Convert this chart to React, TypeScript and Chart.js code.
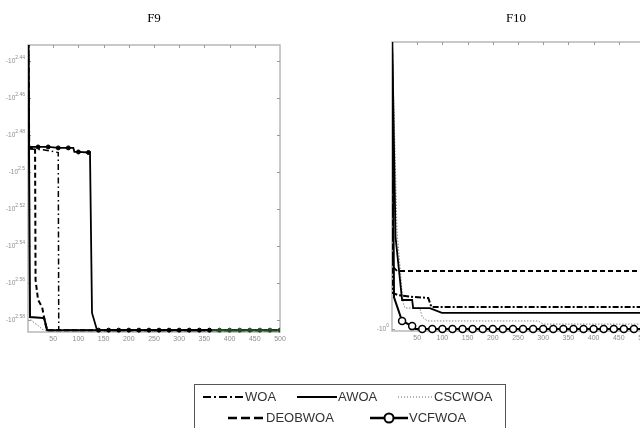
import React, { useEffect, useRef } from 'react';
import { Chart, registerables } from 'chart.js';
Chart.register(...registerables);

// ---------- data ----------
const ITER_TICKS = [0, 50, 100, 150, 200, 250, 300, 350, 400, 450, 500];

// F9 : y value = exponent e of -10^e
const F9_Y_TICKS = [2.44, 2.46, 2.48, 2.5, 2.52, 2.54, 2.56, 2.58];
const F9_WOA_X = [0, 3, 30, 54, 60, 61, 500];
const F9_WOA_Y = [2.4, 2.4876, 2.488, 2.4892, 2.4895, 2.5855, 2.5855];
const F9_AWOA_X = [0, 4, 30, 32, 34, 38, 500];
const F9_AWOA_Y = [2.4, 2.5784, 2.5789, 2.5789, 2.5811, 2.5855, 2.5855];
const F9_CSCWOA_X = [0, 3, 10, 20, 28, 32, 500];
const F9_CSCWOA_Y = [2.4, 2.5789, 2.5811, 2.583, 2.585, 2.5855, 2.5855];
const F9_DEOBWOA_X = [0, 2, 14, 15, 20, 28, 34, 38, 500];
const F9_DEOBWOA_Y = [2.4, 2.487, 2.487, 2.5584, 2.5692, 2.573, 2.5816, 2.5855, 2.5855];
const F9_VCFWOA_X = [0, 2, 20, 40, 60, 80, 90, 92, 100, 120, 123, 127, 137, 140, 160, 180, 200, 220, 240, 260, 280, 300, 320, 340, 360, 380, 400, 420, 440, 460, 480, 500];
const F9_VCFWOA_Y = [2.4, 2.4865, 2.4865, 2.4865, 2.487, 2.487, 2.487, 2.4892, 2.4892, 2.4895, 2.4895, 2.5762, 2.5855, 2.5855, 2.5855, 2.5855, 2.5855, 2.5855, 2.5855, 2.5855, 2.5855, 2.5855, 2.5855, 2.5855, 2.5855, 2.5855, 2.5855, 2.5855, 2.5855, 2.5855, 2.5855, 2.5855];

// F10 : y value = exponent e of -10^e
const F10_Y_TICKS = [0];
const F10_WOA_X = [0, 2, 12, 40, 72, 78, 500];
const F10_WOA_Y = [-1.05, -0.125, -0.118, -0.112, -0.108, -0.077, -0.077];
const F10_AWOA_X = [0, 7, 20, 40, 42, 75, 99, 500];
const F10_AWOA_Y = [-1.05, -0.321, -0.101, -0.101, -0.073, -0.073, -0.056, -0.056];
const F10_CSCWOA_X = [0, 10, 22, 26, 55, 60, 70, 290, 300, 500];
const F10_CSCWOA_Y = [-1.05, -0.34, -0.091, -0.073, -0.073, -0.042, -0.028, -0.028, -0.017, -0.017];
const F10_DEOBWOA_X = [0, 2, 10, 500];
const F10_DEOBWOA_Y = [-1.05, -0.216, -0.202, -0.202];
const F10_VCFWOA_X = [0, 4, 20, 40, 44, 47, 60, 80, 100, 120, 140, 160, 180, 200, 220, 240, 260, 280, 300, 320, 340, 360, 380, 400, 420, 440, 460, 480, 500];
const F10_VCFWOA_Y = [-1.05, -0.11, -0.028, -0.01, -0.006, 0, 0, 0, 0, 0, 0, 0, 0, 0, 0, 0, 0, 0, 0, 0, 0, 0, 0, 0, 0, 0, 0, 0, 0];

const SERIES_NAMES = ['WOA', 'AWOA', 'CSCWOA', 'DEOBWOA', 'VCFWOA'];

// ---------- helpers ----------
const pts = (xs: number[], ys: number[]) => xs.map((x, i) => ({ x, y: ys[i] }));
const SANS = "'Liberation Sans', Arial, sans-serif";
const SERIF = "'Liberation Serif', 'Times New Roman', serif";
const CLIP = { left: 0, top: 0, right: 0, bottom: 5 };
const X_AXIS_H = 14;

function markerRadius(r: number) {
  return (c: any) => {
    const x = c.raw ? c.raw.x : 0;
    return x > 0 && x % 20 === 0 ? r : 0;
  };
}

function makePlugin(id: string, yTicks: number[], title: string, titleX: number, legend: boolean) {
  return {
    id,
    beforeDatasetsDraw(chart: any) {
      const { ctx, chartArea: a } = chart;
      const xs = chart.scales.x;
      const ys = chart.scales.y;
      ctx.save();
      ctx.strokeStyle = '#b8b8b8';
      ctx.lineWidth = 1.5;
      ctx.strokeRect(a.left, a.top, a.right - a.left, a.bottom - a.top);
      ctx.strokeStyle = '#9a9a9a';
      ctx.lineWidth = 1;
      ctx.beginPath();
      for (const t of ITER_TICKS) {
        if (t <= 0 || t >= 500) continue;
        const px = Math.round(xs.getPixelForValue(t)) + 0.5;
        ctx.moveTo(px, a.top);
        ctx.lineTo(px, a.top + 3);
        ctx.moveTo(px, a.bottom);
        ctx.lineTo(px, a.bottom - 3);
      }
      for (const v of yTicks) {
        const py = Math.round(ys.getPixelForValue(v)) + 0.5;
        ctx.moveTo(a.left, py);
        ctx.lineTo(a.left + 3, py);
        ctx.moveTo(a.right, py);
        ctx.lineTo(a.right - 3, py);
      }
      ctx.stroke();
      ctx.restore();
    },
    afterDraw(chart: any) {
      const { ctx, chartArea: a } = chart;
      const ys = chart.scales.y;
      ctx.save();
      // y tick labels -10^e
      ctx.fillStyle = '#8c8c8c';
      ctx.textAlign = 'left';
      ctx.textBaseline = 'alphabetic';
      for (const v of yTicks) {
        const py = ys.getPixelForValue(v);
        const exp = String(v);
        ctx.font = `5px ${SANS}`;
        const ew = ctx.measureText(exp).width;
        ctx.font = `6.5px ${SANS}`;
        const bw = ctx.measureText('-10').width;
        const x0 = a.left - 3 - ew - bw;
        ctx.fillText('-10', x0, py + 2.5);
        ctx.font = `5px ${SANS}`;
        ctx.fillText(exp, x0 + bw, py - 1.5);
      }
      // title
      ctx.fillStyle = '#000';
      ctx.font = `13px ${SERIF}`;
      ctx.textAlign = 'center';
      ctx.fillText(title, titleX, 22);
      if (legend) {
        ctx.strokeStyle = '#555';
        ctx.lineWidth = 1;
        ctx.strokeRect(194.5, 384.5, 311, 60);
        const seg = (x1: number, x2: number, y: number, dash: number[], w: number, col: string) => {
          ctx.beginPath();
          ctx.setLineDash(dash);
          ctx.strokeStyle = col;
          ctx.lineWidth = w;
          ctx.moveTo(x1, y);
          ctx.lineTo(x2, y);
          ctx.stroke();
          ctx.setLineDash([]);
        };
        const r1 = 397, r2 = 418;
        seg(203, 243, r1, [8, 3, 2, 3], 2, '#000');
        seg(297, 337, r1, [], 2, '#000');
        seg(398, 433, r1, [1, 2], 1, '#666');
        seg(228, 265, r2, [9, 4], 2.5, '#000');
        seg(370, 408, r2, [], 2.5, '#000');
        ctx.beginPath();
        ctx.arc(389, r2, 4.5, 0, Math.PI * 2);
        ctx.fillStyle = '#fff';
        ctx.fill();
        ctx.lineWidth = 2;
        ctx.strokeStyle = '#000';
        ctx.stroke();
        ctx.fillStyle = '#333';
        ctx.font = `13px ${SANS}`;
        ctx.textAlign = 'left';
        ctx.textBaseline = 'middle';
        ctx.fillText(SERIES_NAMES[0], 245, r1);
        ctx.fillText(SERIES_NAMES[1], 338, r1);
        ctx.fillText(SERIES_NAMES[2], 434, r1);
        ctx.fillText(SERIES_NAMES[3], 266, r2);
        ctx.fillText(SERIES_NAMES[4], 409, r2);
      }
      ctx.restore();
    },
  };
}

function makeConfig(datasets: any[], yMin: number, yMax: number, padding: any, plugin: any): any {
  return {
    type: 'line',
    data: { datasets },
    options: {
      animation: false,
      responsive: false,
      maintainAspectRatio: false,
      layout: { padding },
      plugins: { legend: { display: false }, title: { display: false }, tooltip: { enabled: false } },
      elements: { line: { tension: 0, fill: false } },
      scales: {
        x: {
          type: 'linear',
          min: 0,
          max: 500,
          afterFit: (s: any) => { s.height = X_AXIS_H; },
          grid: { display: false, drawTicks: false },
          border: { display: false },
          ticks: {
            stepSize: 50,
            autoSkip: false,
            maxRotation: 0,
            padding: 3,
            color: '#8c8c8c',
            font: { size: 7, family: SANS },
            callback: (v: any) => (v === 0 ? '' : String(v)),
          },
        },
        y: {
          type: 'linear',
          reverse: true,
          min: yMin,
          max: yMax,
          afterFit: (s: any) => { s.width = 0; },
          grid: { display: false, drawTicks: false },
          border: { display: false },
          ticks: { display: false },
        },
      },
    },
    plugins: [plugin],
  };
}

export default function App() {
  const ref9 = useRef<HTMLCanvasElement>(null);
  const ref10 = useRef<HTMLCanvasElement>(null);

  useEffect(() => {
    const f9Datasets = [
      {
        label: 'VCFWOA', data: pts(F9_VCFWOA_X, F9_VCFWOA_Y), borderColor: '#000', borderWidth: 1.8,
        pointRadius: markerRadius(2), pointBackgroundColor: (c: any) => (c.raw && c.raw.x >= 370 ? '#244a24' : '#000'),
        pointBorderColor: (c: any) => (c.raw && c.raw.x >= 370 ? '#244a24' : '#000'), pointBorderWidth: 1,
        segment: { borderColor: (c: any) => (c.p0.parsed.x >= 360 ? '#244a24' : undefined) },
        clip: CLIP,
      },
      { label: 'WOA', data: pts(F9_WOA_X, F9_WOA_Y), borderColor: '#000', borderWidth: 1.5, borderDash: [6, 3, 1.5, 3], pointRadius: 0, clip: CLIP },
      { label: 'AWOA', data: pts(F9_AWOA_X, F9_AWOA_Y), borderColor: '#000', borderWidth: 2, pointRadius: 0, clip: CLIP },
      { label: 'DEOBWOA', data: pts(F9_DEOBWOA_X, F9_DEOBWOA_Y), borderColor: '#000', borderWidth: 2, borderDash: [5, 3], pointRadius: 0, clip: CLIP },
      { label: 'CSCWOA', data: pts(F9_CSCWOA_X, F9_CSCWOA_Y), borderColor: '#8a78a0', borderWidth: 1, borderDash: [1.5, 1.5], pointRadius: 0, clip: CLIP },
    ];
    const f10Datasets = [
      {
        label: 'VCFWOA', data: pts(F10_VCFWOA_X, F10_VCFWOA_Y), borderColor: '#000', borderWidth: 2,
        pointRadius: markerRadius(3.5), pointBackgroundColor: '#fff', pointBorderColor: '#000', pointBorderWidth: 1.5,
        clip: CLIP,
      },
      { label: 'WOA', data: pts(F10_WOA_X, F10_WOA_Y), borderColor: '#000', borderWidth: 2, borderDash: [6, 2, 2, 2], pointRadius: 0, clip: CLIP },
      { label: 'AWOA', data: pts(F10_AWOA_X, F10_AWOA_Y), borderColor: '#000', borderWidth: 1.8, pointRadius: 0, clip: CLIP },
      { label: 'DEOBWOA', data: pts(F10_DEOBWOA_X, F10_DEOBWOA_Y), borderColor: '#000', borderWidth: 1.8, borderDash: [5, 3], pointRadius: 0, clip: CLIP },
      { label: 'CSCWOA', data: pts(F10_CSCWOA_X, F10_CSCWOA_Y), borderColor: '#888', borderWidth: 1, borderDash: [1.5, 1.5], pointRadius: 0, clip: CLIP },
    ];
    const c9 = new Chart(
      ref9.current as HTMLCanvasElement,
      makeConfig(f9Datasets, 2.4314, 2.5865, { left: 28, top: 45, right: 360, bottom: 96 - X_AXIS_H }, makePlugin('f9deco', F9_Y_TICKS, 'F9', 154, true))
    );
    const c10 = new Chart(
      ref10.current as HTMLCanvasElement,
      makeConfig(f10Datasets, -1.0, 0.007, { left: 392, top: 42, right: 56, bottom: 97 - X_AXIS_H }, makePlugin('f10deco', F10_Y_TICKS, 'F10', 516, false))
    );
    return () => {
      c9.destroy();
      c10.destroy();
    };
  }, []);

  return (
    <div style={{ position: 'fixed', left: 0, top: 0, width: 640, height: 428, overflow: 'hidden', background: '#fff' }}>
      <canvas ref={ref9} width={640} height={428} style={{ position: 'absolute', left: 0, top: 0, width: 640, height: 428 }} />
      <canvas ref={ref10} width={700} height={428} style={{ position: 'absolute', left: 0, top: 0, width: 700, height: 428 }} />
    </div>
  );
}
